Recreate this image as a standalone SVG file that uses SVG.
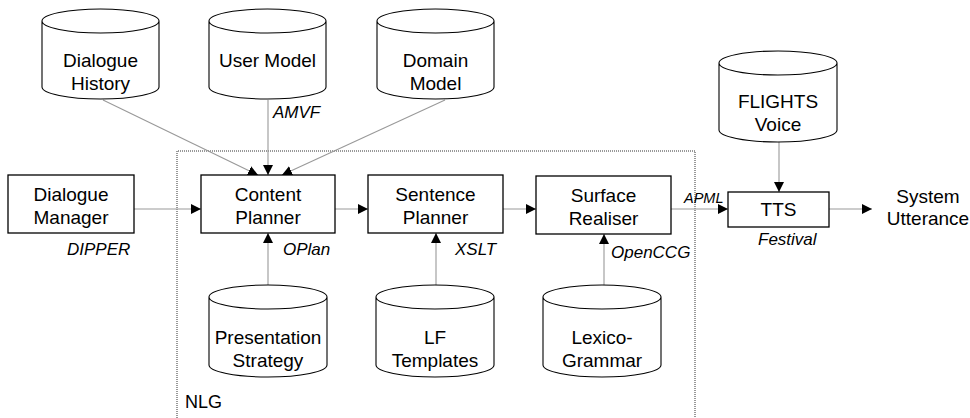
<svg xmlns="http://www.w3.org/2000/svg" width="970" height="418" viewBox="0 0 970 418">
<defs>
<marker id="ah" viewBox="0 0 10 10" refX="10" refY="5" markerWidth="10" markerHeight="10" markerUnits="userSpaceOnUse" orient="auto">
<path d="M0,0 L10,5 L0,10 Z" fill="#000"/>
</marker>
</defs>
<style>
.box{fill:#fff;stroke:#000;stroke-width:1.3}
.cyl{fill:#fff;stroke:#000;stroke-width:1.1}
.t{font-family:"Liberation Sans",Arial,sans-serif;font-size:19px;fill:#000;text-anchor:middle}
.lab{font-family:"Liberation Sans",Arial,sans-serif;font-size:17px;font-style:italic;fill:#000}
.c{stroke:#999;stroke-width:1.1;fill:none;marker-end:url(#ah)}
.nlg{fill:none;stroke:#333;stroke-width:1;stroke-dasharray:1 1}
</style>
<rect width="970" height="418" fill="#fff"/>
<g id="nlg-group">
<path class="nlg" d="M177,420 L177,151 L695,151 L695,420"/>
<text class="t" x="185" y="408" style="text-anchor:start;font-size:18px">NLG</text>
</g>
<g id="connectors">
<line class="c" x1="103" y1="100" x2="258" y2="175"/>
<line class="c" x1="268" y1="100" x2="268" y2="175"/>
<line class="c" x1="445" y1="100" x2="282" y2="175"/>
<line class="c" x1="134" y1="209" x2="201" y2="209"/>
<line class="c" x1="335" y1="209" x2="368" y2="209"/>
<line class="c" x1="503" y1="209" x2="536" y2="209"/>
<line class="c" x1="671" y1="209" x2="728" y2="209"/>
<line class="c" x1="829" y1="209" x2="872" y2="209"/>
<line class="c" x1="779" y1="142" x2="779" y2="192"/>
<line class="c" x1="268" y1="285" x2="268" y2="233"/>
<line class="c" x1="436" y1="285" x2="436" y2="233"/>
<line class="c" x1="604" y1="285" x2="604" y2="234"/>
</g>
<g id="dialogue-history">
<path class="cyl" d="M42,21 L42,87 A58.5,12 0 0 0 159,87 L159,21 A58.5,12 0 0 0 42,21 Z M42,21 A58.5,12 0 0 0 159,21"/>
<text class="t" x="100.5" y="67">Dialogue</text>
<text class="t" x="100.5" y="90">History</text>
</g>
<g id="user-model">
<path class="cyl" d="M209,21 L209,87 A58.5,12 0 0 0 326,87 L326,21 A58.5,12 0 0 0 209,21 Z M209,21 A58.5,12 0 0 0 326,21"/>
<text class="t" x="267.5" y="67">User Model</text>
</g>
<g id="domain-model">
<path class="cyl" d="M377,21 L377,87 A58.5,12 0 0 0 494,87 L494,21 A58.5,12 0 0 0 377,21 Z M377,21 A58.5,12 0 0 0 494,21"/>
<text class="t" x="435.5" y="67">Domain</text>
<text class="t" x="435.5" y="90">Model</text>
</g>
<g id="flights-voice">
<path class="cyl" d="M719,63 L719,130 A59,12 0 0 0 837,130 L837,63 A59,12 0 0 0 719,63 Z M719,63 A59,12 0 0 0 837,63"/>
<text class="t" x="778" y="108">FLIGHTS</text>
<text class="t" x="778" y="131">Voice</text>
</g>
<g id="dialogue-manager">
<rect class="box" x="8" y="175" width="126" height="58"/>
<text class="t" x="71" y="201">Dialogue</text>
<text class="t" x="71" y="224">Manager</text>
</g>
<g id="content-planner">
<rect class="box" x="201" y="175" width="134" height="58"/>
<text class="t" x="268" y="201">Content</text>
<text class="t" x="268" y="224">Planner</text>
</g>
<g id="sentence-planner">
<rect class="box" x="368" y="175" width="135" height="58"/>
<text class="t" x="435.5" y="201">Sentence</text>
<text class="t" x="435.5" y="224">Planner</text>
</g>
<g id="surface-realiser">
<rect class="box" x="536" y="176" width="135" height="58"/>
<text class="t" x="603.5" y="202">Surface</text>
<text class="t" x="603.5" y="225">Realiser</text>
</g>
<g id="tts">
<rect class="box" x="728" y="192" width="101" height="35"/>
<text class="t" x="778.5" y="216">TTS</text>
</g>
<g id="system-utterance">
<text class="t" x="928" y="203">System</text>
<text class="t" x="928" y="225">Utterance</text>
</g>
<g id="presentation-strategy">
<path class="cyl" d="M209,297 L209,365 A59,12 0 0 0 327,365 L327,297 A59,12 0 0 0 209,297 Z M209,297 A59,12 0 0 0 327,297"/>
<text class="t" x="268" y="344">Presentation</text>
<text class="t" x="268" y="367">Strategy</text>
</g>
<g id="lf-templates">
<path class="cyl" d="M376,297 L376,365 A59,12 0 0 0 494,365 L494,297 A59,12 0 0 0 376,297 Z M376,297 A59,12 0 0 0 494,297"/>
<text class="t" x="435" y="344">LF</text>
<text class="t" x="435" y="367">Templates</text>
</g>
<g id="lexico-grammar">
<path class="cyl" d="M543,297 L543,365 A59,12 0 0 0 661,365 L661,297 A59,12 0 0 0 543,297 Z M543,297 A59,12 0 0 0 661,297"/>
<text class="t" x="602" y="344">Lexico-</text>
<text class="t" x="602" y="367">Grammar</text>
</g>
<g id="labels">
<text class="lab" x="273" y="118">AMVF</text>
<text class="lab" x="67" y="255">DIPPER</text>
<text class="lab" x="283" y="255">OPlan</text>
<text class="lab" x="455" y="255">XSLT</text>
<text class="lab" x="611" y="258">OpenCCG</text>
<text class="lab" x="758" y="245">Festival</text>
<text class="lab" x="684" y="203" style="font-size:14.5px">APML</text>
</g>
</svg>
